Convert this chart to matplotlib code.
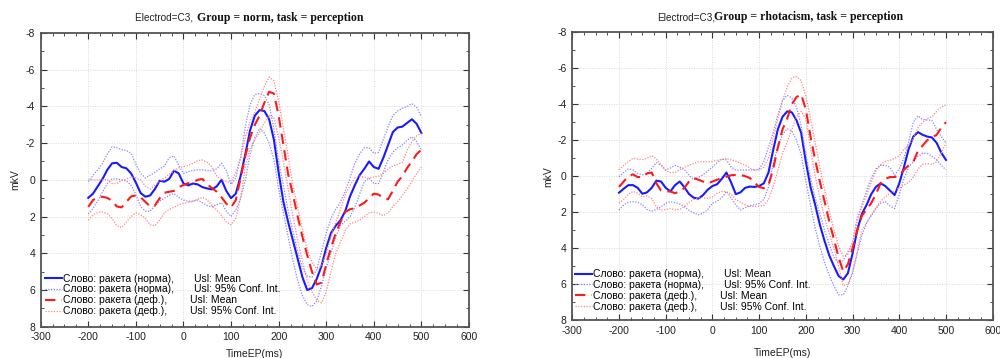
import numpy as np
import matplotlib
matplotlib.use('Agg')
import matplotlib.pyplot as plt
from matplotlib.lines import Line2D
from matplotlib.ticker import MultipleLocator

plt.rcParams['font.family'] = ['Liberation Sans', 'DejaVu Sans']
plt.rcParams['axes.unicode_minus'] = False

# ---------------- data (mkV) ----------------
time_ms = np.arange(-200, 501, 10)

# Left panel: Group = norm
L_norma_mean = [0.98, 0.75, 0.35, -0.05, -0.55, -0.9, -0.93, -0.7, -0.63, -0.35,
                0.15, 0.72, 0.92, 0.85, 0.5, 0.05, 0.1, -0.05, -0.5, -0.35,
                0.2, 0.3, 0.2, 0.25, 0.4, 0.47, 0.52, 0.35, 0.0, 0.6,
                1.0, 0.75, -0.2, -1.4, -2.7, -3.5, -3.8, -3.75, -3.3, -2.2,
                -0.4, 1.2, 2.3, 3.3, 4.3, 5.3, 6.0, 5.9, 5.4, 4.7,
                3.7, 2.9, 2.5, 2.2, 1.7, 0.9, 0.3, -0.25, -0.6, -1.0,
                -0.7, -0.6, -1.2, -1.9, -2.6, -2.85, -2.9, -3.1, -3.3, -3.05,
                -2.55]
L_norma_hi = [0.1, -0.25, -0.55, -0.9, -1.4, -1.8, -1.75, -1.65, -1.6, -1.45,
              -0.85, -0.35, -0.1, -0.25, -0.4, -0.6, -0.75, -1.2, -1.3, -0.8,
              -0.35, -0.45, -0.5, -0.55, -0.55, -0.5, -0.5, -0.6, -0.9, -0.5,
              0.25, -0.1, -1.2, -2.9, -4.1, -4.65, -4.7, -4.6, -4.1, -2.8,
              -1.0, 0.3, 1.7, 2.8, 3.9, 4.8, 5.25, 5.3, 4.9, 3.9,
              2.9, 2.1, 1.6, 1.2, 0.6, -0.1, -0.9, -1.4, -1.75, -1.75,
              -1.45, -1.5, -2.2, -2.9, -3.5, -3.75, -3.9, -4.0, -4.15, -3.95,
              -3.45]
L_norma_lo = [1.87, 1.55, 1.15, 0.65, 0.2, -0.05, -0.05, 0.0, 0.05, 0.3,
              0.8, 1.45, 1.7, 1.72, 1.4, 1.15, 1.0, 0.85, 0.75, 0.95,
              1.1, 1.17, 1.15, 1.1, 1.25, 1.4, 1.47, 1.35, 1.25, 1.7,
              2.0, 1.65, 1.0, 0.0, -1.4, -2.3, -2.8, -2.55, -2.0, -1.1,
              0.5, 1.8, 3.1, 4.4, 5.5, 6.3, 6.8, 6.9, 6.6, 5.8,
              4.8, 4.0, 3.1, 2.5, 2.25, 2.0, 1.5, 0.8, 0.1, -0.1,
              0.2, 0.2, -0.4, -1.1, -1.5, -1.75, -1.9, -2.15, -2.35, -2.1,
              -1.6]
L_def_mean = [1.47, 1.1, 0.95, 0.92, 0.98, 1.15, 1.45, 1.5, 1.2, 0.9,
              0.85, 0.95, 1.2, 1.45, 1.4, 1.0, 0.7, 0.65, 0.6, 0.4,
              0.28, 0.18, 0.12, 0.0, -0.05, 0.25, 0.45, 0.65, 0.95, 1.3,
              1.5, 1.1, -0.1, -1.3, -2.3, -3.0, -3.5, -4.2, -4.8, -4.7,
              -3.5, -1.9, -0.3, 0.8, 2.0, 3.1, 4.1, 5.0, 5.7, 5.6,
              4.6, 3.7, 2.9, 2.3, 1.75, 1.6, 1.55, 1.4, 1.25, 1.0,
              0.75, 0.8, 1.0, 1.05, 0.6, 0.1, -0.2, -0.65, -1.0, -1.4,
              -1.65]
L_def_hi = [0.0, 0.0, 0.0, 0.0, -0.02, 0.2, 0.2, 0.05, -0.05, -0.15,
            -0.1, 0.0, 0.35, 0.5, 0.3, 0.1, -0.1, -0.3, -0.5, -0.65,
            -0.72, -0.78, -0.9, -1.05, -1.08, -0.95, -0.7, -0.2, 0.0, 0.1,
            0.15, -0.4, -1.2, -2.3, -3.2, -3.7, -4.4, -5.1, -5.6, -5.4,
            -4.3, -2.8, -1.3, 0.3, 1.5, 2.7, 3.8, 4.5, 4.85, 4.7,
            4.0, 3.1, 2.3, 1.6, 0.8, 0.3, -0.1, -0.2, -0.15, -0.1,
            -0.15, -0.2, -0.35, -0.6, -0.75, -0.85, -0.95, -1.6, -2.1, -2.4,
            -2.55]
L_def_lo = [2.2, 1.9, 1.78, 1.75, 1.85, 2.1, 2.5, 2.6, 2.3, 2.0,
            1.8, 1.9, 2.1, 2.45, 2.5, 2.2, 1.8, 1.6, 1.5, 1.35,
            1.28, 1.22, 1.18, 1.05, 0.95, 1.1, 1.4, 1.65, 1.95, 2.3,
            2.45, 2.1, 1.0, -0.7, -1.7, -2.2, -2.6, -3.1, -3.5, -3.4,
            -2.3, -1.0, 0.5, 2.0, 3.3, 4.4, 5.5, 6.1, 6.55, 6.7,
            6.1, 5.0, 4.0, 3.4, 2.75, 2.4, 2.3, 2.2, 2.0, 1.8,
            1.75, 1.82, 1.95, 1.8, 1.45, 1.2, 0.85, 0.5, 0.1, -0.35,
            -0.7]

# Right panel: Group = rhotacism
R_norma_mean = [0.92, 0.7, 0.5, 0.5, 0.65, 0.98, 0.9, 0.65, 0.25, 0.3,
                0.65, 0.85, 0.5, 0.3, 0.62, 1.0, 1.2, 1.25, 1.05, 0.75,
                0.55, 0.45, 0.15, -0.2, 0.35, 1.0, 0.9, 0.65, 0.58, 0.6,
                0.55, 0.4, -0.2, -1.45, -2.6, -3.3, -3.6, -3.55, -3.1, -2.4,
                -0.8, 0.6, 1.6, 2.7, 3.6, 4.4, 5.0, 5.55, 5.75, 5.4,
                4.3, 3.0, 2.1, 1.6, 1.0, 0.6, 0.4, 0.55, 0.8, 1.05,
                0.4, -0.5, -1.5, -2.2, -2.45, -2.3, -2.2, -2.15, -1.85, -1.3,
                -0.9]
R_norma_hi = [0.03, -0.2, -0.4, -0.35, -0.15, -0.07, -0.15, -0.45, -0.75, -0.6,
              -0.35, -0.45, -0.6, -0.5, -0.35, -0.05, 0.2, 0.05, -0.07, -0.3,
              -0.5, -0.75, -0.95, -0.9, -0.5, -0.34, -0.34, -0.34, -0.34, -0.34,
              -0.4, -0.8, -1.6, -2.4, -3.4, -4.2, -4.5, -4.35, -3.85, -2.8,
              -1.2, 0.1, 1.2, 2.1, 3.0, 3.8, 4.5, 4.8, 4.7, 4.2,
              3.7, 2.3, 1.6, 0.8, 0.1, -0.4, -0.6, -0.6, -0.5, -0.05,
              -0.4, -1.0, -1.9, -3.0, -3.35, -3.15, -3.12, -3.1, -2.6, -2.2,
              -1.85]
R_norma_lo = [1.88, 1.6, 1.45, 1.42, 1.45, 1.6, 1.85, 1.95, 1.85, 1.7,
              1.5, 1.42, 1.48, 1.55, 1.7, 1.9, 2.05, 2.15, 2.05, 1.85,
              1.5, 1.4, 1.2, 0.86, 1.2, 1.6, 1.88, 1.75, 1.65, 1.58,
              1.52, 1.3, 0.6, -0.7, -1.6, -2.3, -2.65, -2.5, -2.0, -1.2,
              0.3, 1.6, 2.9, 3.9, 4.8, 5.5, 6.1, 6.6, 6.6, 6.1,
              5.4, 4.3, 3.3, 2.6, 2.2, 1.8, 1.5, 1.42, 1.65, 1.8,
              1.0, 0.15, -0.5, -0.8, -1.1, -1.27, -1.27, -1.1, -0.9, -0.6,
              -0.35]
R_def_mean = [0.6, 0.3, 0.0, -0.1, 0.05, 0.05, -0.15, -0.2, 0.4, 0.8,
              0.85, 0.85, 0.95, 0.85, 0.65, 0.3, 0.1, 0.2, 0.3, 0.4,
              0.3, 0.2, 0.1, 0.03, -0.05, -0.07, -0.07, 0.0, 0.1, 0.35,
              0.6, 0.67, 0.5, -0.4, -1.6, -2.6, -3.2, -4.0, -4.4, -4.55,
              -3.7, -2.2, -0.9, 0.3, 1.4, 2.5, 3.5, 4.5, 5.3, 4.9,
              4.0, 3.0, 2.2, 1.85, 1.5, 1.0, 0.4, 0.15, 0.05, 0.05,
              -0.05, -0.35, -0.6, -0.8, -1.4, -1.7, -2.0, -2.15, -2.3, -2.7,
              -3.0]
R_def_hi = [-0.35, -0.6, -0.8, -1.0, -0.95, -0.92, -1.0, -1.15, -0.95, -0.65,
            -0.3, -0.2, -0.2, -0.35, -0.5, -0.6, -0.7, -0.8, -0.8, -0.8,
            -0.82, -0.88, -0.92, -0.98, -0.9, -0.83, -0.72, -0.62, -0.45, -0.34,
            -0.34, -0.5, -1.0, -2.1, -3.2, -4.2, -4.95, -5.45, -5.55, -5.3,
            -4.45, -3.2, -1.85, -0.5, 0.75, 1.95, 2.95, 3.9, 4.45, 4.35,
            3.7, 2.5, 1.7, 1.05, 0.35, -0.3, -0.65, -0.82, -0.88, -1.0,
            -1.12, -1.5, -1.7, -2.1, -2.7, -3.0, -3.2, -3.3, -3.6, -3.85,
            -3.95]
R_def_lo = [1.5, 1.3, 1.0, 0.85, 0.95, 1.15, 1.1, 1.25, 1.7, 1.9,
            1.85, 1.8, 1.88, 1.85, 1.7, 1.45, 1.3, 1.2, 1.2, 1.25,
            1.15, 0.95, 0.85, 0.86, 1.0, 1.3, 1.45, 1.6, 1.68, 1.68,
            1.68, 1.62, 1.3, 0.6, -0.3, -1.3, -1.9, -2.6, -3.3, -3.6,
            -3.2, -1.6, 0.0, 1.2, 2.3, 3.2, 4.0, 5.0, 6.1, 6.0,
            5.3, 4.2, 3.0, 2.6, 2.15, 1.75, 1.4, 1.15, 0.95, 0.8,
            0.65, 0.5, 0.35, 0.05, -0.4, -0.65, -0.7, -0.65, -0.8, -1.3,
            -1.85]

x_ticks = [-300, -200, -100, 0, 100, 200, 300, 400, 500, 600]
y_ticks = [-8, -6, -4, -2, 0, 2, 4, 6, 8]

legend_labels = [
    "Слово: ракета (норма),       Usl: Mean",
    "Слово: ракета (норма),       Usl: 95% Conf. Int.",
    "Слово: ракета (деф.),        Usl: Mean",
    "Слово: ракета (деф.),        Usl: 95% Conf. Int.",
]

# ---------------- styles ----------------
BLUE = '#1a1aff'
BLUE_CI = '#8585ff'
RED = '#ff1a1a'
RED_CI = '#ff8585'
mean_blue_kw = dict(color=BLUE, lw=1.5, ls='-')
ci_blue_kw = dict(color=BLUE_CI, lw=0.9, ls=(0, (1, 1.2)))
mean_red_kw = dict(color=RED, lw=1.5, ls=(0, (5, 3)))
ci_red_kw = dict(color=RED_CI, lw=0.9, ls=(0, (1, 1.2)))

W, H = 1000, 358
fig = plt.figure(figsize=(W / 100, H / 100), dpi=100)


def px_rect(x0, y0, x1, y1):
    return [x0 / W, 1 - y1 / H, (x1 - x0) / W, (y1 - y0) / H]


def draw_panel(rect, nm, nhi, nlo, dm, dhi, dlo, leg_anchor, xpad, ypad):
    ax = fig.add_axes(rect)
    ax.plot(time_ms, nm, **mean_blue_kw)
    ax.plot(time_ms, nhi, **ci_blue_kw)
    ax.plot(time_ms, nlo, **ci_blue_kw)
    ax.plot(time_ms, dm, **mean_red_kw)
    ax.plot(time_ms, dhi, **ci_red_kw)
    ax.plot(time_ms, dlo, **ci_red_kw)
    ax.set_xlim(-300, 600)
    ax.set_ylim(8, -8)
    ax.set_xticks(x_ticks)
    ax.set_yticks(y_ticks)
    ax.set_xticklabels([str(v) for v in x_ticks])
    ax.set_yticklabels([str(v) for v in y_ticks])
    ax.xaxis.set_minor_locator(MultipleLocator(25))
    ax.yaxis.set_minor_locator(MultipleLocator(1))
    ax.tick_params(which='both', direction='in', top=True, right=True,
                   labelsize=7.5, colors='#333333', labelcolor='#222222')
    ax.tick_params(which='major', length=4, width=0.8, pad=4)
    ax.tick_params(which='minor', length=2, width=0.6)
    ax.grid(True, which='major', color='#d8d8d8', lw=0.7, ls=(0, (1, 1.5)))
    for s in ax.spines.values():
        s.set_color('#555555')
        s.set_linewidth(1.3)
    ax.set_xlabel('TimeEP(ms)', fontsize=7.5, labelpad=xpad, color='#222222')
    ax.set_ylabel('mkV', fontsize=7.5, labelpad=ypad, color='#222222')
    handles = [Line2D([], [], **mean_blue_kw), Line2D([], [], **ci_blue_kw),
               Line2D([], [], **mean_red_kw), Line2D([], [], **ci_red_kw)]
    ax.legend(handles, legend_labels, loc='lower left', bbox_to_anchor=leg_anchor,
              frameon=False, fontsize=7.5, handlelength=1.6, handletextpad=0.15,
              labelspacing=0.05, borderpad=0, borderaxespad=0)
    return ax


axL = draw_panel(px_rect(40.7, 33, 469, 326.7), L_norma_mean, L_norma_hi, L_norma_lo,
                 L_def_mean, L_def_hi, L_def_lo, (0.01, 0.035), 5, 4)
axR = draw_panel(px_rect(572.3, 32.3, 992.7, 320), R_norma_mean, R_norma_hi, R_norma_lo,
                 R_def_mean, R_def_hi, R_def_lo, (0.007, 0.028), 9, 3)

serif_bold = dict(family=['Liberation Serif', 'DejaVu Serif'], weight='bold', fontsize=8.5)
fig.text(135 / W, 1 - 21 / H, 'Electrod=C3, ', fontsize=7.2, color='#222222', va='baseline')
fig.text(197 / W, 1 - 21 / H, 'Group = norm, task = perception', color='#111111',
         va='baseline', **serif_bold)
fig.text(657 / W, 1 - 20 / H, 'Electrod=C3,', fontsize=7.2, color='#222222', va='baseline')
fig.text(714.5 / W, 1 - 20 / H, 'Group = rhotacism, task = perception', color='#111111',
         va='baseline', **serif_bold)

fig.savefig('out.png', dpi=100, facecolor='white')
